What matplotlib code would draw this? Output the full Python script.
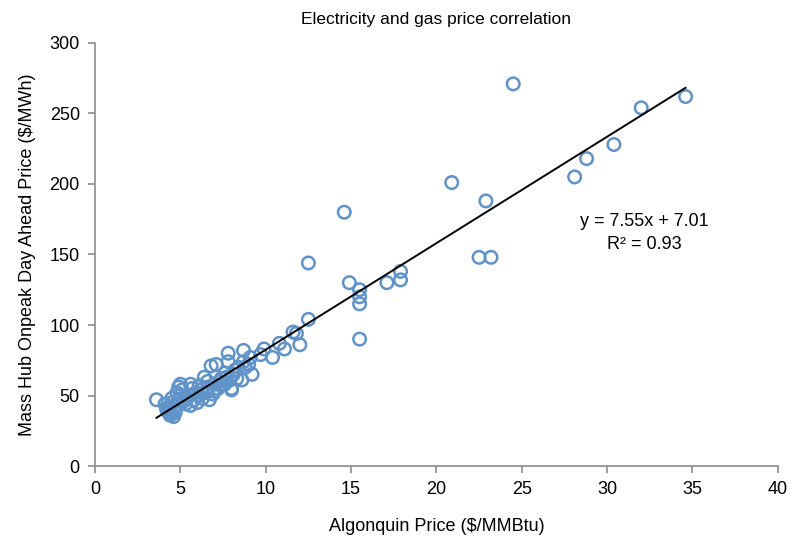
import matplotlib
matplotlib.use("Agg")
import matplotlib.pyplot as plt
import numpy as np

# Algonquin gas price ($/MMBtu) vs Mass Hub onpeak DA price ($/MWh)
gas_price = [
    3.6, 4.1, 4.2, 4.3, 4.4, 4.5, 4.6, 4.7, 4.4, 4.5, 4.6, 4.8, 4.9, 4.8, 4.9,
    5.0, 5.1, 5.2, 5.3, 5.4, 5.5, 5.6, 5.6, 5.8, 5.9, 6.0, 6.1, 6.2, 6.3, 6.4,
    6.5, 6.6, 6.7, 6.8, 6.9, 7.0, 7.1, 7.2, 7.3, 7.4, 7.5, 7.6, 7.7, 7.8, 7.8,
    7.9, 8.0, 8.0, 8.1, 8.2, 8.4, 8.6, 8.7, 8.7, 8.8, 9.0, 9.1, 9.2, 9.7, 9.9,
    10.4, 10.8, 11.1, 11.6, 11.8, 12.0, 12.5, 12.5, 14.6, 14.9, 15.5, 15.5,
    15.5, 15.5, 17.1, 17.9, 17.9, 20.9, 22.5, 23.2, 22.9, 24.5, 28.1, 28.8,
    30.4, 32.0, 34.6, 4.3, 4.5, 5.0, 5.7, 6.1, 6.6, 7.0, 7.6, 8.3,
]
power_price = [
    47, 44, 40, 38, 36, 37, 35, 38, 42, 45, 40, 43, 47, 52, 56,
    58, 54, 46, 44, 48, 50, 58, 43, 47, 52, 45, 50, 54, 48, 63,
    52, 56, 47, 71, 51, 58, 72, 55, 60, 62, 58, 66, 63, 80, 74,
    61, 55, 54, 65, 68, 70, 61, 82, 74, 70, 72, 77, 65, 79, 83,
    77, 87, 83, 95, 94, 86, 104, 144, 180, 130, 125, 120,
    115, 90, 130, 138, 132, 201, 148, 148, 188, 271, 205, 218,
    228, 254, 262, 41, 48, 50, 55, 57, 60, 53, 58, 62,
]

slope = 7.55
intercept = 7.01
r_squared = 0.93

x_ticks = [0, 5, 10, 15, 20, 25, 30, 35, 40]
y_ticks = [0, 50, 100, 150, 200, 250, 300]

plt.rcParams['font.family'] = ['Liberation Sans', 'DejaVu Sans']

fig = plt.figure(figsize=(7.92, 5.42), dpi=100)
ax = fig.add_axes([0.12, 0.1402, 0.862, 0.7805])

ax.scatter(gas_price, power_price, s=9 ** 2, facecolors='none',
           edgecolors='#5f93c9', linewidths=1.8, zorder=2)

# linear trendline
xs = np.array([min(gas_price), max(gas_price)])
ax.plot(xs, slope * xs + intercept, color='black', linewidth=1.4, zorder=3)

ax.text(32.2, 165, f"y = {slope:.2f}x + {intercept:.2f}\nR² = {r_squared:.2f}",
        ha='center', va='center', fontsize=13, linespacing=1.45)

ax.set_xlim(0, 40)
ax.set_ylim(0, 300)
ax.set_xticks(x_ticks)
ax.set_yticks(y_ticks)

for side in ['top', 'right']:
    ax.spines[side].set_visible(False)
for side in ['left', 'bottom']:
    ax.spines[side].set_color('#8c8c8c')
    ax.spines[side].set_linewidth(1.2)
ax.tick_params(direction='out', length=5, color='#8c8c8c', width=1.2,
               labelsize=13, labelcolor='black', pad=6)

ax.set_title('Electricity and gas price correlation', fontsize=12.5, pad=14)
ax.set_xlabel('Algonquin Price ($/MMBtu)', fontsize=13, labelpad=14)
ax.set_ylabel('Mass Hub Onpeak Day Ahead Price ($/MWh)', fontsize=13, labelpad=10)

fig.savefig('out.png', dpi=100)
